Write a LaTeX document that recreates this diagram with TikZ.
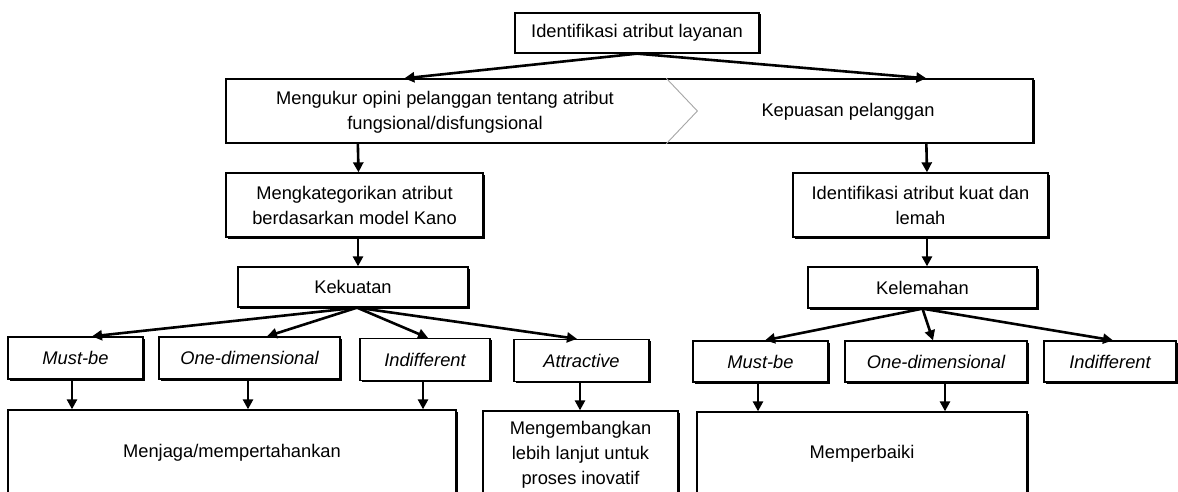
\documentclass[tikz,border=0pt]{standalone}
\usepackage{fontspec}
\setmainfont{Liberation Sans}
\usetikzlibrary{arrows.meta,shadows}
\begin{document}
\begin{tikzpicture}[x=1pt,y=-1pt,
  box/.style={draw=black, line width=1.3pt, fill=white, inner sep=0pt, align=center,
    font=\fontsize{18.3}{25}\selectfont,
    drop shadow={shadow xshift=1.5pt, shadow yshift=-1.5pt, opacity=1, fill=black}},
  lbl/.style={inner sep=0pt, align=center, font=\fontsize{18.3}{25}\selectfont},
  it/.style={font=\fontsize{18.3}{25}\selectfont\itshape},
  arr/.style={line width=2.6pt, -{Triangle[length=10pt,width=10pt]}},
]
\clip (0,0) rectangle (1178,492);
\fill[white] (0,0) rectangle (1178,492);

% top
\node[box, minimum width=244pt, minimum height=40pt] (top) at (637,33) {Identifikasi atribut layanan};

% banner
\node[box, minimum width=807pt, minimum height=64pt] (banner) at (629.5,111) {};
\draw[gray!70, line width=0.9pt] ([xshift=441pt]banner.north west) -- ([xshift=472pt]banner.west) -- ([xshift=441pt]banner.south west);
\node[lbl] (ukur) at (445,112) {Mengukur opini pelanggan tentang atribut\\fungsional/disfungsional};
\node[lbl] (puas) at (848,112) {Kepuasan pelanggan};

% left column
\node[box, minimum width=257pt, minimum height=64pt] (kat) at (354.5,205) {Mengkategorikan atribut\\berdasarkan model Kano};
\node[box, minimum width=230pt, minimum height=40pt] (kek) at (353,287) {Kekuatan};

% right column
\node[box, minimum width=255pt, minimum height=64pt] (ids) at (920.5,205) {Identifikasi atribut kuat dan\\lemah};
\node[box, minimum width=229pt, minimum height=41pt] (kel) at (922.5,287.5) {Kelemahan};

% left row
\node[box, it, minimum width=135pt, minimum height=42pt] (mbL) at (75.5,358) {Must-be};
\node[box, it, minimum width=181pt, minimum height=42pt] (odL) at (249.5,358) {One-dimensional};
\node[box, it, minimum width=130pt, minimum height=42pt] (inL) at (425,359.5) {Indifferent};
\node[box, it, minimum width=135pt, minimum height=42pt] (atL) at (581.5,360.5) {Attractive};

% right row
\node[box, it, minimum width=135pt, minimum height=41pt] (mbR) at (760.5,361.5) {Must-be};
\node[box, it, minimum width=182pt, minimum height=41pt] (odR) at (936,361.5) {One-dimensional};
\node[box, it, minimum width=132pt, minimum height=41pt] (inR) at (1110,361.5) {Indifferent};

% bottom boxes
\node[box, minimum width=448pt, minimum height=86pt] (jaga) at (232,453) {Menjaga/mempertahankan};
\node[box, minimum width=195pt, minimum height=88pt] (kembang) at (580.5,455) {Mengembangkan\\lebih lanjut untuk\\proses inovatif};
\node[box, minimum width=330pt, minimum height=84pt] (baik) at (862,454) {Memperbaiki};

% arrows top
\draw[arr] (top.south) -- ([xshift=179pt]banner.north west);
\draw[arr] (top.south) -- ([xshift=701pt]banner.north west);
\draw[arr] ([xshift=132.5pt]banner.south west) -- ([xshift=4pt]kat.north);
\draw[arr] ([xshift=701pt]banner.south west) -- ([xshift=6.5pt]ids.north);
\draw[arr] ([xshift=3.5pt]kat.south) -- ([xshift=5pt]kek.north);
\draw[arr] ([xshift=6.5pt]ids.south) -- ([xshift=4.5pt]kel.north);

% fan from Kekuatan
\draw[arr] ([xshift=4pt]kek.south) -- ([xshift=16.5pt]mbL.north);
\draw[arr] ([xshift=4pt]kek.south) -- ([xshift=17.5pt]odL.north);
\draw[arr] ([xshift=4pt]kek.south) -- ([xshift=3pt]inL.north);
\draw[arr] ([xshift=4pt]kek.south) -- ([xshift=-4.5pt]atL.north);

% fan from Kelemahan
\draw[arr] (kel.south) -- ([xshift=4.5pt]mbR.north);
\draw[arr] (kel.south) -- ([xshift=-3pt]odR.north);
\draw[arr] (kel.south) -- ([xshift=3pt]inR.north);

% down to bottom boxes
\draw[arr] ([xshift=-3.5pt]mbL.south) -- ([xshift=-3.5pt]mbL.south |- jaga.north);
\draw[arr] ([xshift=-1.5pt]odL.south) -- ([xshift=-1.5pt]odL.south |- jaga.north);
\draw[arr] ([xshift=-2pt]inL.south) -- ([xshift=-2pt]inL.south |- jaga.north);
\draw[arr] ([xshift=-1.5pt]atL.south) -- ([xshift=-1.5pt]atL.south |- kembang.north);
\draw[arr] ([xshift=-2.5pt]mbR.south) -- ([xshift=-2.5pt]mbR.south |- baik.north);
\draw[arr] ([xshift=9pt]odR.south) -- ([xshift=9pt]odR.south |- baik.north);
\end{tikzpicture}
\end{document}
